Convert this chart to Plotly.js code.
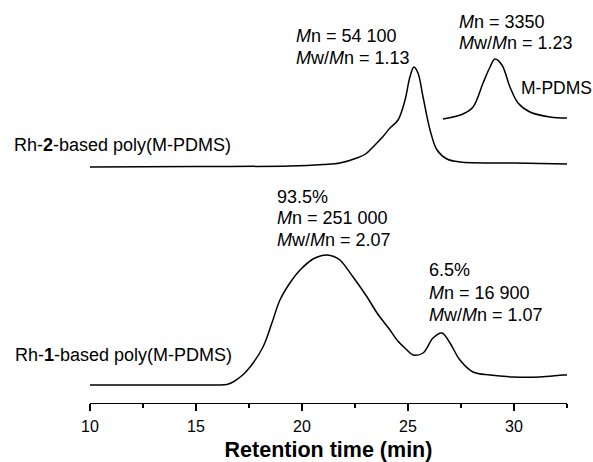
<!DOCTYPE html>
<html>
<head>
<meta charset="utf-8">
<script src="https://cdn.plot.ly/plotly-3.0.1.min.js"></script>
<style>html,body{margin:0;padding:0;background:#fff;}#chart{width:593px;height:462px;}</style>
</head>
<body>
<div id="chart"></div>
<script>
// Retention time (min) and detector signal (arbitrary units, offset traces)
const rh1Time = [10.0, 12.0, 14.0, 16.0, 16.46, 16.75, 17.2, 17.55, 18.16, 18.58, 18.96, 19.43, 19.91, 20.52, 20.9, 21.18, 21.5, 21.79, 22.41, 23.07, 23.54, 24.15, 24.48, 24.9, 25.24, 25.71, 26.18, 26.6, 26.98, 27.45, 28.07, 28.87, 29.95, 31.23, 32.31, 32.5];
const rh1Signal = [18, 18, 18, 18, 18.5, 21, 28, 36, 56, 80, 103, 120, 133, 144, 147.3, 148, 146.5, 143, 126, 106, 90, 73, 63, 54, 48, 50, 65, 70, 60, 43, 31, 28, 26, 26, 28, 28];

const rh2Time = [10, 15, 19.43, 21.0, 21.79, 22.59, 23.0, 23.35, 23.8, 24.15, 24.53, 24.86, 25.09, 25.28, 25.47, 25.71, 26.04, 26.37, 26.84, 27.45, 30, 32.5];
const rh2Signal = [236, 236.5, 237, 238.5, 240, 245, 249, 256, 266, 275, 283, 303, 326, 336, 330, 306, 273, 253, 244, 241, 240, 239];

const mpdmsTime = [26.65, 27.59, 28.07, 28.54, 28.87, 29.1, 29.43, 29.81, 30.19, 30.75, 31.7, 32.5];
const mpdmsSignal = [284, 289, 296, 320, 336, 344, 338, 316, 300, 291, 286, 285];

const tickVals = [10, 15, 20, 25, 30];
const tickText = ['10', '15', '20', '25', '30'];

const FONT = 'Liberation Sans, Arial, Helvetica, sans-serif';
const lineStyle = {color: '#000', width: 1.5, shape: 'spline', smoothing: 1};

const traces = [
  {x: rh1Time, y: rh1Signal, mode: 'lines', line: lineStyle, hoverinfo: 'skip'},
  {x: rh2Time, y: rh2Signal, mode: 'lines', line: lineStyle, hoverinfo: 'skip'},
  {x: mpdmsTime, y: mpdmsSignal, mode: 'lines', line: lineStyle, hoverinfo: 'skip'}
];

const labels = [
  ['Rh-<b>2</b>-based poly(M-PDMS)', -0.1635, 0.6402, 18],
  ['Rh-<b>1</b>-based poly(M-PDMS)', -0.1614, 0.1191, 18],
  ['<i>M</i>n = 54 100', 0.4277, 0.9107, 18],
  ['<i>M</i>w/<i>M</i>n = 1.13', 0.4277, 0.8561, 18],
  ['<i>M</i>n = 3350', 0.7694, 0.9454, 18],
  ['<i>M</i>w/<i>M</i>n = 1.23', 0.7694, 0.8933, 18],
  ['M-PDMS', 0.8985, 0.7816, 17.5],
  ['93.5%', 0.3878, 0.5112, 18],
  ['<i>M</i>n = 251 000', 0.3878, 0.4591, 18],
  ['<i>M</i>w/<i>M</i>n = 2.07', 0.3878, 0.4045, 18],
  ['6.5%', 0.7065, 0.3300, 18],
  ['<i>M</i>n = 16 900', 0.7065, 0.2730, 18],
  ['<i>M</i>w/<i>M</i>n = 1.07', 0.7065, 0.2184, 18]
];

const annotations = labels.map(([t, x, y, s]) => ({
  text: t, x: x, y: y, xref: 'paper', yref: 'paper',
  xanchor: 'left', yanchor: 'middle', showarrow: false,
  font: {family: FONT, size: s, color: '#000'}
}));

const layout = {
  width: 593, height: 462,
  margin: {l: 90, r: 26, t: 0, b: 59},
  paper_bgcolor: '#fff', plot_bgcolor: '#fff',
  showlegend: false,
  font: {family: FONT, color: '#000'},
  xaxis: {
    range: [10, 32.5], showgrid: false, zeroline: false,
    showline: true, linecolor: '#000', linewidth: 1.2,
    ticks: 'outside', ticklen: 7, tickwidth: 1.2, tickcolor: '#000',
    tickvals: tickVals, ticktext: tickText, ticklabelstandoff: 2,
    tickfont: {family: FONT, size: 16, color: '#000'},
    minor: {tickvals: [12.5, 17.5, 22.5, 27.5, 32.5], ticks: 'outside', ticklen: 4, tickwidth: 1.2, tickcolor: '#000'},
    title: {text: '<b>Retention time (min)</b>', font: {family: FONT, size: 21.5, color: '#000'}, standoff: 17}
  },
  yaxis: {range: [0, 403], visible: false, fixedrange: true},
  annotations: annotations
};

Plotly.newPlot('chart', traces, layout, {displayModeBar: false, staticPlot: true});
</script>
</body>
</html>
